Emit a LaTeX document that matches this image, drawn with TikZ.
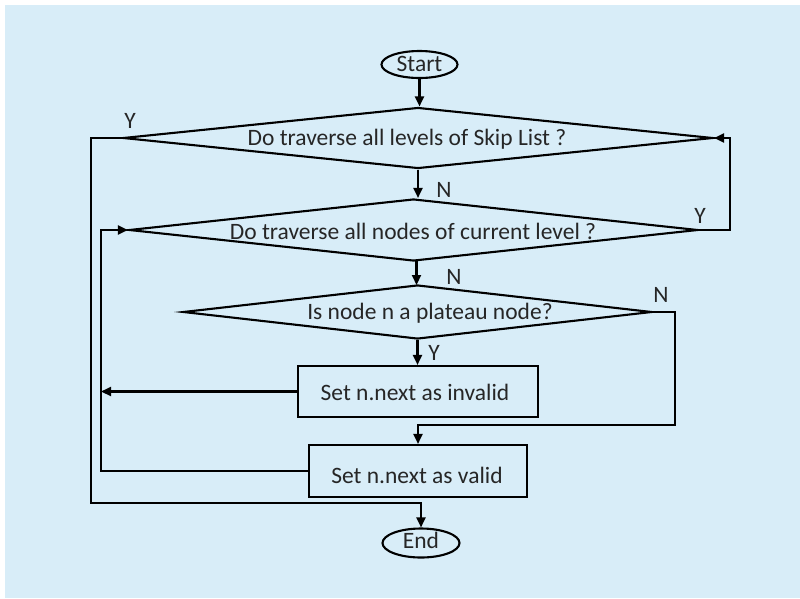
\documentclass[tikz,border=0pt]{standalone}
\usepackage{fontspec}
\setmainfont{Carlito}
\usetikzlibrary{shapes.geometric,arrows.meta}
\definecolor{panel}{HTML}{D8EDF8}
\definecolor{ink}{HTML}{262626}
\begin{document}
\begin{tikzpicture}[x=1pt,y=1pt,
  flow/.style={line width=2.1pt,draw=black},
  arrow/.style={flow,-{Triangle[length=10pt,width=9pt]}},
  decision/.style={diamond,draw,line width=2.1pt,inner sep=0pt},
  process/.style={rectangle,draw,line width=2.1pt,inner sep=0pt},
  terminal/.style={ellipse,draw,line width=2.1pt,inner sep=0pt},
  txt/.style={font=\fontsize{23.5}{28}\selectfont,text=ink,inner sep=0pt,anchor=base},
]
\useasboundingbox (0,0) rectangle (800,-598);
\fill[panel] (5,-5) rectangle (800,-598);

% shapes
\node[terminal,minimum width=76pt,minimum height=27pt] (start) at (419.5,-64.5) {};
\node[decision,minimum width=590pt,minimum height=61pt] (d1) at (418,-138) {};
\node[decision,minimum width=569pt,minimum height=62pt] (d2) at (413.5,-230) {};
\node[decision,minimum width=469pt,minimum height=54pt] (d3) at (417.5,-312) {};
\node[process,minimum width=240pt,minimum height=51pt] (r1) at (418,-391.5) {};
\node[process,minimum width=218pt,minimum height=52pt] (r2) at (418,-471) {};
\node[terminal,minimum width=77pt,minimum height=29pt] (end) at (421,-543) {};

% texts
\node[txt] (tstart) at (419.5,-71) {Start};
\node[txt] (t1) at (407,-145) {Do traverse all levels of Skip List ?};
\node[txt] (t2) at (413,-239) {Do traverse all nodes of current level ?};
\node[txt] (t3) at (430,-319) {Is node n a plateau node?};
\node[txt] (t4) at (415,-400) {Set n.next as invalid};
\node[txt] (t5) at (417,-483) {Set n.next as valid};
\node[txt] (tend) at (421,-548) {End};

% branch labels
\node[txt,anchor=center] (y1) at (130,-121) {Y};
\node[txt,anchor=center] (n1) at (444,-190) {N};
\node[txt,anchor=center] (y2) at (700,-216) {Y};
\node[txt,anchor=center] (n2) at (454,-277) {N};
\node[txt,anchor=center] (n3) at (661,-295) {N};
\node[txt,anchor=center] (y3) at (434,-353) {Y};

% turning points of the loops
\coordinate (outer) at (91,-503);
\coordinate (inner) at (101,-471);
\coordinate (back) at (730,-138);
\coordinate (skip) at (675,-425);

% straight flow
\draw[arrow] (start) -- (start.south |- d1.north);
\draw[arrow] (d1.south) -- (d1.south |- d2.north);
\draw[arrow] (416.5,-261) -- (416.5,-285);
\draw[arrow] (d3.south) -- (d3.south |- r1.north);

% loops
\draw[arrow] (d2.east) -| (back) -- (d1.east);
\draw[arrow] (d1.west) -| (outer) -| (end.north);
\draw[arrow] (d3.east) -| (skip) -| (r2.north);
\draw[arrow] (r1.west) -- (r1.west -| inner);
\draw[arrow] (r2.west) -- (inner) |- (d2.west);
\end{tikzpicture}
\end{document}
